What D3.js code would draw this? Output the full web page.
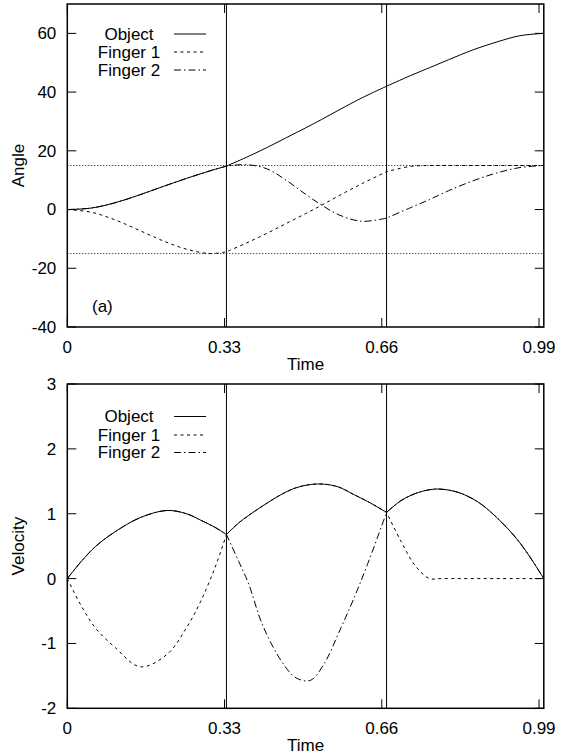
<!DOCTYPE html>
<html>
<head>
<meta charset="utf-8">
<script src="https://cdn.jsdelivr.net/npm/d3@7"></script>
<style>
  body { margin: 0; background: #fff; }
  text { font-family: "Liberation Sans", Arial, Helvetica, sans-serif; font-size: 17px; fill: #000; }
</style>
</head>
<body>
<svg id="chart" width="565" height="755"></svg>
<script>
// shared x axis
const xTicks = [0, 0.33, 0.66, 0.99];
const switchTimes = [0.334, 0.67];
const seriesNames = ["Object", "Finger 1", "Finger 2"];

// (a) angle
const angleTicks = [-40, -20, 0, 20, 40, 60];
const angleLimits = [15, -15];
const angleTime = [0, 0.05, 0.1, 0.15, 0.2, 0.25, 0.3, 0.334, 0.376, 0.42, 0.46, 0.5, 0.534, 0.57, 0.618, 0.67, 0.72, 0.76, 0.8, 0.85, 0.9, 0.95, 1.0];
const angleObject = [0, 0.5, 2.3, 4.9, 7.8, 10.6, 13.2, 14.8, 17.8, 21.2, 24.5, 27.8, 30.7, 33.9, 38.0, 42.0, 45.6, 48.3, 51.0, 54.3, 57.0, 59.2, 60.0];
const angleFinger1 = [0, -0.9, -3.5, -7.0, -10.6, -13.5, -15.0, -14.4, -11.4, -8.0, -4.7, -1.4, 1.5, 4.7, 8.8, 12.9, 14.7, 15.0, 15.0, 15.0, 15.0, 15.0, 15.0];
const angleFinger2 = [0, 0.5, 2.3, 4.9, 7.8, 10.6, 13.2, 14.8, 15.3, 13.8, 9.9, 5.2, 1.5, -1.8, -4.0, -2.9, 0.6, 3.4, 6.4, 9.7, 12.4, 14.3, 15.0];

// velocity
const velocityTicks = [-2, -1, 0, 1, 2, 3];
const velocityTime = [0, 0.03, 0.06, 0.1, 0.153, 0.209, 0.25, 0.28, 0.31, 0.334, 0.36, 0.38, 0.41, 0.45, 0.48, 0.51, 0.54, 0.57, 0.6, 0.63, 0.67, 0.7, 0.73, 0.76, 0.782, 0.82, 0.86, 0.9, 0.95, 1.0];
const velocityObject = [0, 0.27, 0.50, 0.72, 0.94, 1.05, 1.00, 0.90, 0.79, 0.68, 0.86, 0.97, 1.12, 1.30, 1.40, 1.45, 1.455, 1.41, 1.30, 1.19, 1.02, 1.20, 1.31, 1.37, 1.38, 1.33, 1.19, 0.95, 0.55, 0];
const velocityFinger1 = [0, -0.43, -0.77, -1.06, -1.36, -1.17, -0.76, -0.35, 0.17, 0.68, 0.86, 0.97, 1.12, 1.30, 1.40, 1.45, 1.455, 1.41, 1.30, 1.19, 1.02, 0.58, 0.2, 0, 0, 0, 0, 0, 0, 0];
const velocityFinger2 = [0, 0.27, 0.50, 0.72, 0.94, 1.05, 1.00, 0.90, 0.79, 0.68, 0.26, -0.07, -0.72, -1.28, -1.53, -1.57, -1.30, -0.83, -0.33, 0.22, 1.02, 1.20, 1.31, 1.37, 1.38, 1.33, 1.19, 0.95, 0.55, 0];

const svg = d3.select("#chart");
const left = 67.3, right = 543.8;
const dashes = [null, "3,3.5", "7,3,1.5,3"];

const x = d3.scaleLinear().domain([0, 1]).range([left, right]);

function drawPanel(opt) {
  const g = svg.append("g");
  const y = d3.scaleLinear().domain(opt.yDomain).range([opt.bottom, opt.top]);

  // reference lines
  (opt.limits || []).forEach(v => {
    g.append("line")
      .attr("x1", left).attr("x2", right)
      .attr("y1", y(v)).attr("y2", y(v))
      .attr("stroke", "#000").attr("stroke-width", 1)
      .attr("stroke-dasharray", "1,2");
  });
  switchTimes.forEach(t => {
    g.append("line")
      .attr("x1", x(t)).attr("x2", x(t))
      .attr("y1", opt.top).attr("y2", opt.bottom)
      .attr("stroke", "#000").attr("stroke-width", 1);
  });

  // curves, split at the switch times so the corners stay sharp
  const line = d3.line().x(d => x(d[0])).y(d => y(d[1])).curve(d3.curveCatmullRom.alpha(0.5));
  const cuts = [0, ...switchTimes, 1];
  opt.series.forEach((vals, i) => {
    const pts = opt.time.map((t, k) => [t, vals[k]]);
    const d = d3.range(cuts.length - 1)
      .map(s => line(pts.filter(p => p[0] >= cuts[s] - 1e-9 && p[0] <= cuts[s + 1] + 1e-9)))
      .map((p, s) => s ? p.replace(/^M/, "L") : p)
      .join("");
    g.append("path")
      .attr("d", d)
      .attr("fill", "none")
      .attr("stroke", "#000")
      .attr("stroke-width", 1)
      .attr("stroke-dasharray", dashes[i]);
  });

  // frame
  g.append("rect")
    .attr("x", left).attr("y", opt.top)
    .attr("width", right - left).attr("height", opt.bottom - opt.top)
    .attr("fill", "none").attr("stroke", "#000").attr("stroke-width", 1.5);

  // ticks (inward, mirrored)
  const tl = 9;
  opt.yTicks.forEach(v => {
    g.append("line").attr("x1", left).attr("x2", left + tl)
      .attr("y1", y(v)).attr("y2", y(v)).attr("stroke", "#000");
    g.append("line").attr("x1", right).attr("x2", right - tl)
      .attr("y1", y(v)).attr("y2", y(v)).attr("stroke", "#000");
    g.append("text")
      .attr("x", left - 11).attr("y", y(v)).attr("dy", "0.35em")
      .attr("text-anchor", "end")
      .text(v);
  });
  xTicks.forEach(v => {
    g.append("line").attr("x1", x(v)).attr("x2", x(v))
      .attr("y1", opt.bottom).attr("y2", opt.bottom - tl).attr("stroke", "#000");
    g.append("line").attr("x1", x(v)).attr("x2", x(v))
      .attr("y1", opt.top).attr("y2", opt.top + tl).attr("stroke", "#000");
    g.append("text")
      .attr("x", x(v)).attr("y", opt.bottom + 26)
      .attr("text-anchor", "middle")
      .text(v);
  });

  // axis titles
  g.append("text")
    .attr("x", (left + right) / 2).attr("y", opt.bottom + 43)
    .attr("text-anchor", "middle")
    .text("Time");
  g.append("text")
    .attr("transform", `translate(18,${(opt.top + opt.bottom) / 2}) rotate(-90)`)
    .attr("dy", "0.35em")
    .attr("text-anchor", "middle")
    .text(opt.yLabel);

  // key
  opt.keyRows.forEach((ky, i) => {
    g.append("text")
      .attr("x", 129).attr("y", ky).attr("dy", "0.35em")
      .attr("text-anchor", "middle")
      .text(seriesNames[i]);
    g.append("line")
      .attr("x1", 174).attr("x2", 206)
      .attr("y1", ky).attr("y2", ky)
      .attr("stroke", "#000").attr("stroke-width", 1)
      .attr("stroke-dasharray", dashes[i]);
  });

  if (opt.note) {
    g.append("text").attr("x", 92).attr("y", opt.bottom - 15).text(opt.note);
  }
}

drawPanel({
  top: 4, bottom: 327,
  yDomain: [-40, 70], yTicks: angleTicks, yLabel: "Angle",
  limits: angleLimits,
  time: angleTime,
  series: [angleObject, angleFinger1, angleFinger2],
  keyRows: [34, 52, 70],
  note: "(a)"
});

drawPanel({
  top: 384, bottom: 708.3,
  yDomain: [-2, 3], yTicks: velocityTicks, yLabel: "Velocity",
  time: velocityTime,
  series: [velocityObject, velocityFinger1, velocityFinger2],
  keyRows: [416.5, 435, 452.5]
});
</script>
</body>
</html>
